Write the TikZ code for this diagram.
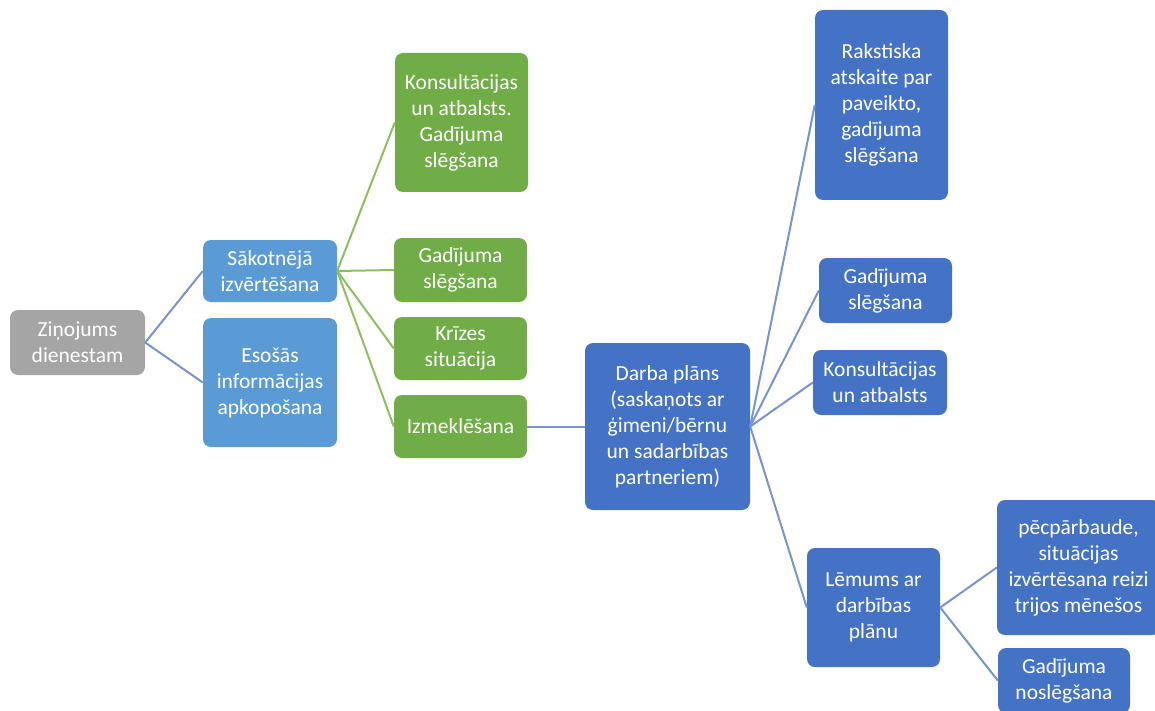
\documentclass[tikz,border=0pt]{standalone}
\usepackage{fontspec}
\setmainfont{Carlito}
\definecolor{boxgray}{RGB}{165,165,165}
\definecolor{lightblue}{RGB}{91,155,213}
\definecolor{darkblue}{RGB}{68,114,196}
\definecolor{boxgreen}{RGB}{112,173,71}
\definecolor{linkblue}{RGB}{120,148,205}
\definecolor{linkgreen}{RGB}{140,192,95}
\tikzset{
  box/.style={rounded corners=8pt, text=white, align=center, inner sep=2pt,
    font=\fontsize{21.5}{26}\selectfont},
  graybox/.style={box, fill=boxgray},
  lbox/.style={box, fill=lightblue},
  dbox/.style={box, fill=darkblue},
  gbox/.style={box, fill=boxgreen},
  bluelink/.style={draw=linkblue, line width=2pt},
  greenlink/.style={draw=linkgreen, line width=2pt},
}
\newcommand{\bx}[7]{% style, name, cx, cy, w, h, text
  \node[#1, minimum width=#5pt, minimum height=#6pt] (#2) at (#3,#4) {#7};}
\begin{document}
\begin{tikzpicture}[x=1pt, y=-1pt]
\useasboundingbox (0,0) rectangle (1155,711);
% first level
\bx{graybox}{zin}{77.5}{342.5}{135}{65}{Ziņojums\\dienestam}
\bx{lbox}{sak}{270}{271}{134}{62}{Sākotnējā\\izvērtēšana}
\bx{lbox}{eso}{270}{382.5}{134}{129}{Esošās\\informācijas\\apkopošana}
% assessment outcomes
\bx{gbox}{gA}{461.5}{122.5}{133}{139}{Konsultācijas\\un atbalsts.\\Gadījuma\\slēgšana}
\bx{gbox}{gB}{460.5}{270}{133}{64}{Gadījuma\\slēgšana}
\bx{gbox}{gC}{460.5}{348.5}{133}{63}{Krīzes\\situācija}
\bx{gbox}{gD}{460.5}{426.5}{133}{63}{Izmeklēšana}
% work plan
\bx{dbox}{darba}{667.5}{426.5}{165}{167}{Darba plāns\\(saskaņots ar\\ģimeni/bērnu\\un sadarbības\\partneriem)}
\bx{dbox}{rak}{881.5}{105}{133}{190}{Rakstiska\\atskaite par\\paveikto,\\gadījuma\\slēgšana}
\bx{dbox}{gad}{885.5}{290.5}{133}{65}{Gadījuma\\slēgšana}
\bx{dbox}{kon}{880}{382.5}{134}{65}{Konsultācijas\\un atbalsts}
\bx{dbox}{lem}{873.5}{607.5}{133}{119}{Lēmums ar\\darbības\\plānu}
\bx{dbox}{pec}{1078.5}{567.5}{163}{135}{pēcpārbaude,\\situācijas\\izvērtēsana reizi\\trijos mēnešos}
\bx{dbox}{nos}{1064}{680.5}{132}{65}{Gadījuma\\noslēgšana}
% connectors
\draw[bluelink] (zin.east) -- (sak.west);
\draw[bluelink] (zin.east) -- (eso.west);
\foreach \t in {gA,gB,gC,gD} \draw[greenlink] (sak.east) -- (\t.west);
\draw[bluelink] (gD.east) -- (darba.west);
\foreach \t in {rak,gad,kon,lem} \draw[bluelink] (darba.east) -- (\t.west);
\draw[bluelink] (lem.east) -- (pec.west);
\draw[bluelink] (lem.east) -- (nos.west);
\end{tikzpicture}
\end{document}
